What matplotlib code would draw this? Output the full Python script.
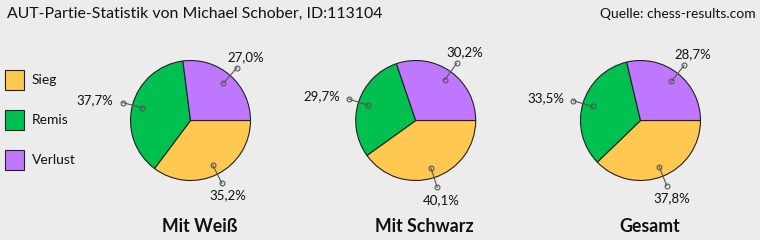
import numpy as np
import matplotlib
matplotlib.use("Agg")
import matplotlib.pyplot as plt
from matplotlib.patches import Rectangle

plt.rcParams['font.family'] = ['Lato', 'DejaVu Sans']

# ---- data ----
categories = ["Sieg", "Remis", "Verlust"]
colors = ["#FFC850", "#00C04F", "#BF77FF"]
chart_titles = ["Mit Weiß", "Mit Schwarz", "Gesamt"]
weiss = [35.2, 37.7, 27.0]
schwarz = [40.1, 29.7, 30.2]
gesamt = [37.8, 33.5, 28.7]
series = [weiss, schwarz, gesamt]
title = "AUT-Partie-Statistik von Michael Schober, ID:113104"
source = "Quelle: chess-results.com"

W, H = 760, 240
BG = "#ECECEC"
fig = plt.figure(figsize=(W / 100, H / 100), dpi=100, facecolor=BG)

centers_px = [(190.5, 120.5), (415.7, 120.5), (640.5, 120.5)]
R = 60.0
half = 100.0
lim = half / R

for (cx, cy), vals, name in zip(centers_px, series, chart_titles):
    ax = fig.add_axes([(cx - half) / W, (H - cy - half) / H, 2 * half / W, 2 * half / H])
    ax.set_facecolor("none")
    ax.axis("off")
    wedges, _ = ax.pie(vals, colors=colors, startangle=0, counterclock=False,
                       radius=1.0,
                       wedgeprops=dict(edgecolor="#222222", linewidth=0.8))
    ax.set_xlim(-lim, lim)
    ax.set_ylim(-lim, lim)
    ax.set_aspect("equal")
    for w, v in zip(wedges, vals):
        ang = np.deg2rad((w.theta1 + w.theta2) / 2)
        c, s = np.cos(ang), np.sin(ang)
        p_in = (0.83 * c, 0.83 * s)
        p_out = (1.17 * c, 1.17 * s)
        ax.plot([p_in[0], p_out[0]], [p_in[1], p_out[1]], color="#555555", lw=0.8,
                marker="o", ms=3.5, mfc="none", mec="#555555", mew=0.8, clip_on=False)
        txt = f"{v:.1f}%".replace(".", ",")
        if c < -0.8:
            ax.text(1.33 * c, 1.33 * s, txt, ha="right", va="center", fontsize=9.5,
                    color="#111111")
        else:
            ax.text(1.4 * c, 1.4 * s, txt, ha="center", va="center", fontsize=9.5,
                    color="#111111")
    fig.text((cx + 9) / W, 1 - 227 / H, name, ha="center", va="center",
             fontsize=12.8, fontweight="bold", color="#111111")

fig.text(7 / W, 1 - 14 / H, title, ha="left", va="center", fontsize=11.4, color="#111111")
fig.text(756 / W, 1 - 14 / H, source, ha="right", va="center", fontsize=10, color="#111111")

# legend (manual, pixel layout)
for i, (cat, col) in enumerate(zip(categories, colors)):
    top = 70 + 40 * i
    fig.add_artist(Rectangle((4.5 / W, 1 - (top + 20) / H), 20 / W, 20 / H,
                             transform=fig.transFigure, facecolor=col,
                             edgecolor="#222222", linewidth=0.8))
    fig.text(32 / W, 1 - (top + 10) / H, cat, ha="left", va="center",
             fontsize=10, color="#111111")

fig.savefig("out.png", dpi=100, facecolor=BG)
